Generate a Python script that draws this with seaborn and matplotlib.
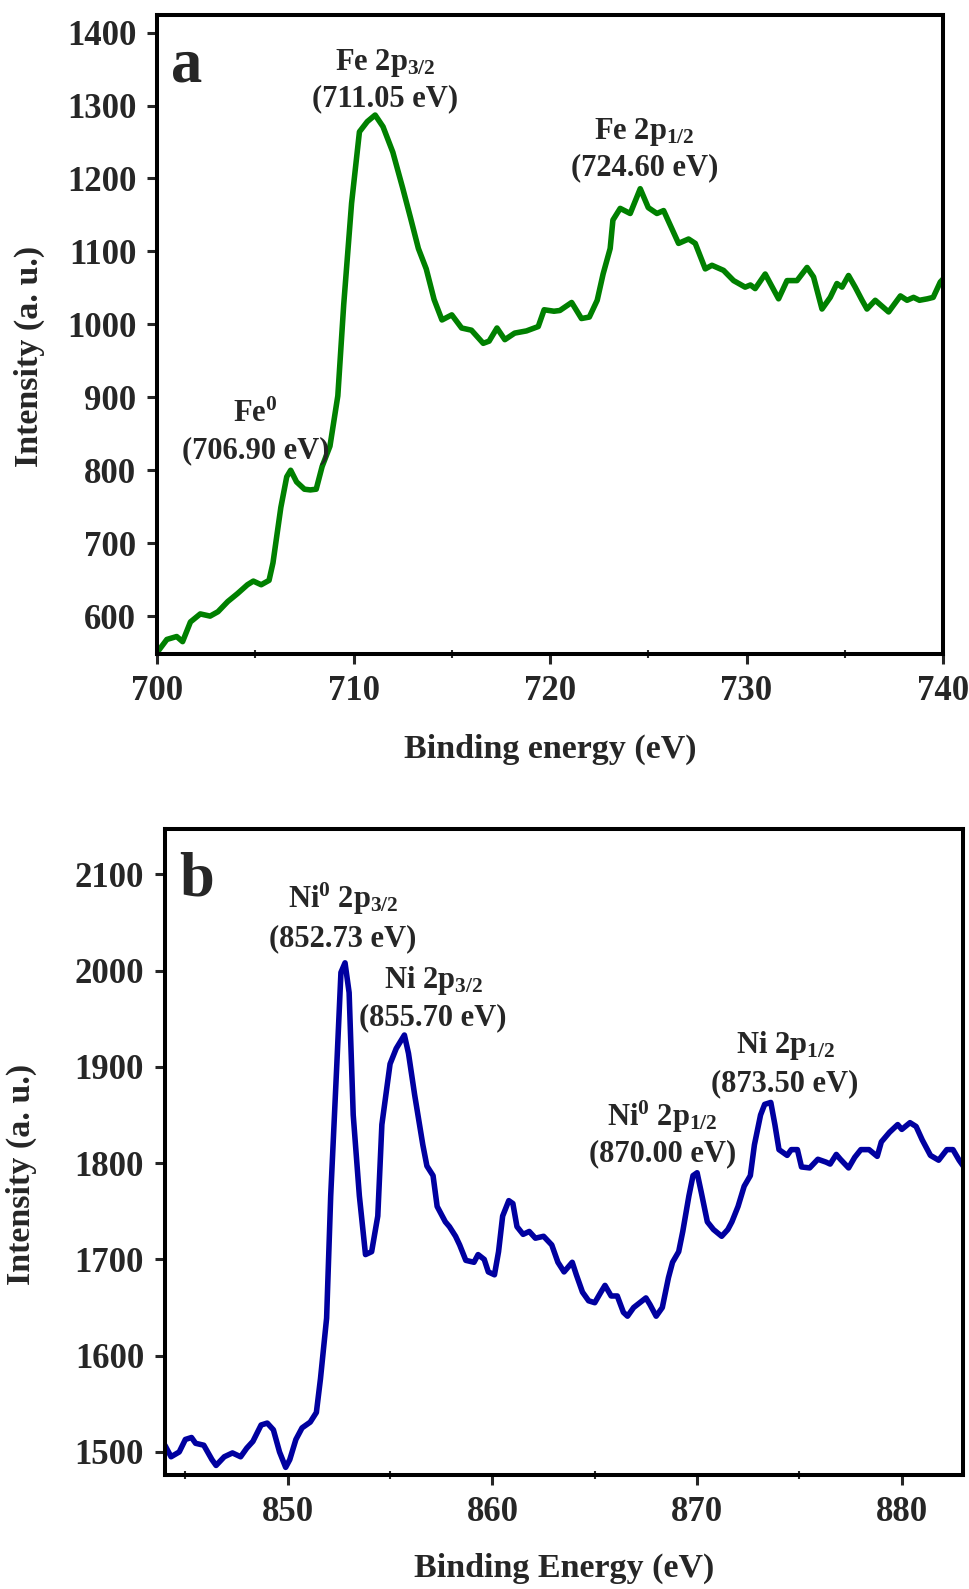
import matplotlib
matplotlib.use("Agg")
import matplotlib.pyplot as plt
import seaborn as sns
import pandas as pd

# ---------------- data: panel a (Fe 2p) ----------------
fe_energy = [700.0, 700.5, 701.0, 701.3, 701.7, 702.2, 702.7, 703.1, 703.6, 704.1, 704.6, 704.9,
             705.3, 705.7, 705.9, 706.3, 706.6, 706.8, 707.1, 707.5, 707.8, 708.1, 708.4, 708.8,
             709.2, 709.5, 709.9, 710.3, 710.7, 711.1, 711.5, 712.0, 712.5, 712.9, 713.3, 713.7,
             714.1, 714.5, 715.0, 715.5, 716.0, 716.6, 716.9, 717.3, 717.7, 718.2, 718.8, 719.4,
             719.7, 720.2, 720.5, 721.1, 721.6, 722.0, 722.4, 722.7, 723.06, 723.2, 723.57, 724.08,
             724.59, 725.0, 725.44, 725.78, 726.54, 727.05, 727.39, 727.9, 728.24, 728.83, 729.34,
             729.93, 730.2, 730.44, 730.95, 731.63, 732.06, 732.57, 733.08, 733.41, 733.84, 734.26,
             734.6, 734.86, 735.19, 735.53, 735.88, 736.13, 736.55, 737.23, 737.83, 738.17, 738.5,
             738.8, 739.2, 739.5, 739.86, 740.0]
fe_intensity = [550, 568, 572, 565, 592, 603, 600, 606, 620, 631, 643, 648,
                643, 649, 673, 749, 791, 800, 784, 774, 773, 774, 805, 833,
                902, 1027, 1166, 1264, 1278, 1287, 1271, 1236, 1187, 1146, 1104, 1076,
                1034, 1006, 1013, 995, 992, 974, 977, 995, 979, 988, 991, 997,
                1020, 1018, 1019, 1030, 1008, 1010, 1033, 1069, 1104, 1143, 1159, 1152,
                1186, 1160, 1152, 1156, 1111, 1117, 1111, 1076, 1081, 1074, 1060,
                1051, 1054, 1049, 1069, 1035, 1060, 1060, 1078, 1065, 1021, 1037,
                1056, 1051, 1067, 1051, 1033, 1021, 1033, 1017, 1039, 1033, 1037,
                1033, 1035, 1037, 1058, 1062]

# ---------------- data: panel b (Ni 2p) ----------------
ni_energy = [844.0, 844.3, 844.7, 845.0, 845.3, 845.5, 845.9, 846.3, 846.5, 846.9, 847.3, 847.7,
             848.0, 848.3, 848.7, 849.0, 849.3, 849.6, 849.9, 850.1, 850.4, 850.7, 851.1, 851.4,
             851.6, 851.9, 852.1, 852.4, 852.6, 852.8, 853.0, 853.2, 853.5, 853.8, 854.1, 854.4,
             854.6, 855.0, 855.3, 855.7, 855.9, 856.2, 856.6, 856.8, 857.1, 857.3, 857.7, 857.9,
             858.2, 858.4, 858.7, 859.1, 859.3, 859.6, 859.8, 860.1, 860.3, 860.5, 860.8, 861.0,
             861.2, 861.5, 861.8, 862.1, 862.5, 862.9, 863.2, 863.5, 863.9, 864.1, 864.4, 864.7,
             865.0, 865.3, 865.5, 865.8, 866.1, 866.4, 866.6, 866.9, 867.2, 867.5, 867.7, 868.0,
             868.3, 868.6, 868.8, 869.1, 869.3, 869.6, 869.8, 870.0, 870.2, 870.5, 870.8, 871.2,
             871.5, 871.7, 872.0, 872.3, 872.6, 872.8, 873.1, 873.3, 873.6, 873.8, 874.0, 874.4,
             874.6, 874.9, 875.1, 875.5, 875.9, 876.3, 876.5, 876.8, 877.0, 877.4, 877.7, 878.0,
             878.4, 878.8, 879.0, 879.4, 879.8, 880.0, 880.4, 880.7, 881.0, 881.4, 881.8, 882.2,
             882.5, 882.8, 883.0]
ni_intensity = [1507, 1495, 1500, 1513, 1515, 1509, 1507, 1492, 1486, 1495, 1499, 1495,
                1504, 1511, 1528, 1530, 1523, 1500, 1484, 1492, 1513, 1525, 1531, 1541,
                1576, 1639, 1766, 1903, 1998, 2008, 1977, 1850, 1766, 1705, 1708, 1745,
                1840, 1903, 1919, 1933, 1914, 1871, 1819, 1797, 1787, 1755, 1739, 1734,
                1724, 1715, 1699, 1697, 1705, 1700, 1687, 1684, 1708, 1745, 1761, 1758,
                1734, 1726, 1729, 1722, 1724, 1715, 1697, 1687, 1697, 1684, 1666, 1657,
                1655, 1666, 1673, 1662, 1662, 1645, 1641, 1650, 1655, 1660, 1653, 1641,
                1650, 1681, 1697, 1708, 1729, 1766, 1787, 1790, 1770, 1739, 1731, 1724,
                1731, 1739, 1755, 1776, 1787, 1819, 1850, 1861, 1863, 1840, 1814, 1808,
                1814, 1814, 1796, 1795, 1804, 1801, 1799, 1809, 1804, 1795, 1806, 1814,
                1814, 1807, 1822, 1832, 1840, 1835, 1842, 1838, 1824, 1808, 1803, 1814,
                1814, 1803, 1797]

fe_xticks = [700, 710, 720, 730, 740]
fe_yticks = [600, 700, 800, 900, 1000, 1100, 1200, 1300, 1400]
ni_xticks = [850, 860, 870, 880]
ni_yticks = [1500, 1600, 1700, 1800, 1900, 2000, 2100]

fe_labels = [("Fe 2p$_{3/2}$", "(711.05 eV)", 711.6, 1358, 1310),
             ("Fe 2p$_{1/2}$", "(724.60 eV)", 724.8, 1264, 1215),
             ("Fe$^{0}$", "(706.90 eV)", 705.0, 877, 827)]
ni_labels = [("Ni$^{0}$ 2p$_{3/2}$", "(852.73 eV)", 852.7, 2074, 2033),
             ("Ni 2p$_{3/2}$", "(855.70 eV)", 857.1, 1990, 1951),
             ("Ni$^{0}$ 2p$_{1/2}$", "(870.00 eV)", 868.3, 1848, 1810),
             ("Ni 2p$_{1/2}$", "(873.50 eV)", 874.3, 1922, 1882)]

# ---------------- style ----------------
sns.set_style("white")
plt.rcParams['font.family'] = ['Liberation Serif', 'DejaVu Serif']
plt.rcParams['font.weight'] = 'bold'
plt.rcParams['mathtext.fontset'] = 'custom'
plt.rcParams['mathtext.rm'] = 'Liberation Serif:bold'
plt.rcParams['mathtext.it'] = 'Liberation Serif:bold'
plt.rcParams['mathtext.bf'] = 'Liberation Serif:bold'
plt.rcParams['mathtext.default'] = 'rm'

fig = plt.figure(figsize=(9.7, 15.89), dpi=100)
ax1 = fig.add_axes([0.1619, 0.5884, 0.8103, 0.4021])
ax2 = fig.add_axes([0.1700, 0.0717, 0.8230, 0.4066])

df_fe = pd.DataFrame({"energy": fe_energy, "intensity": fe_intensity})
df_ni = pd.DataFrame({"energy": ni_energy, "intensity": ni_intensity})

sns.lineplot(data=df_fe, x="energy", y="intensity", ax=ax1, color="#008000", linewidth=4.0,
             sort=False, solid_joinstyle='round', solid_capstyle='round')
sns.lineplot(data=df_ni, x="energy", y="intensity", ax=ax2, color="#0000A0", linewidth=4.0,
             sort=False, solid_joinstyle='round', solid_capstyle='round')


def style_axes(ax, xlim, ylim, xticks, yticks, xlabel, letter, xlab_y, ylab_x):
    ax.set_xlim(*xlim)
    ax.set_ylim(*ylim)
    ax.set_xticks(xticks)
    ax.set_yticks(yticks)
    ax.set_xticks([t + 5 for t in xticks[:-1]] + ([xticks[0] - 5] if xlim[0] < xticks[0] - 5 else []), minor=True)
    for s in ax.spines.values():
        s.set_linewidth(2.9)
        s.set_color("black")
    ax.tick_params(axis='both', which='major', direction='out', length=7, width=2.2,
                   labelsize=25, pad=8, bottom=True, left=True)
    ax.tick_params(axis='x', which='minor', direction='inout', length=6, width=1.5, bottom=True)
    for lab in ax.get_xticklabels() + ax.get_yticklabels():
        lab.set_fontweight('bold')
    ax.set_xlabel(xlabel, fontsize=24.5, fontweight='bold')
    ax.set_ylabel("Intensity (a. u.)", fontsize=24.5, fontweight='bold')
    ax.xaxis.set_label_coords(0.5, xlab_y)
    ax.yaxis.set_label_coords(ylab_x, 0.465)
    ax.text(0.018, 0.965, letter, transform=ax.transAxes, fontsize=45, fontweight='bold',
            ha='left', va='top')


style_axes(ax1, (700, 740), (548, 1424), fe_xticks, fe_yticks, "Binding energy (eV)", "a", -0.125, -0.142)
style_axes(ax2, (844, 883), (1476, 2147), ni_xticks, ni_yticks, "Binding Energy (eV)", "b", -0.12, -0.16)

for ax, labels in ((ax1, fe_labels), (ax2, ni_labels)):
    for l1, l2, x, y1, y2 in labels:
        ax.text(x, y1, l1, fontsize=22, fontweight='bold', ha='center', va='center')
        ax.text(x, y2, l2, fontsize=22, fontweight='bold', ha='center', va='center')

fig.savefig("out.png", dpi=100)
